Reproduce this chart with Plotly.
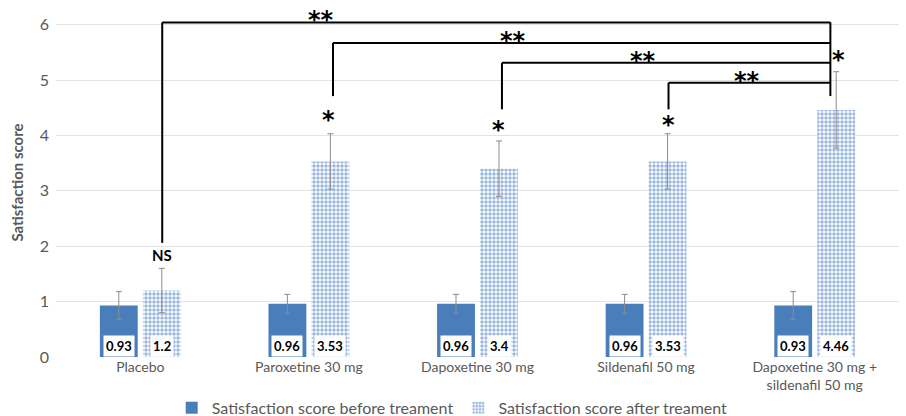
import plotly.graph_objects as go

categories = ["Placebo", "Paroxetine 30 mg", "Dapoxetine 30 mg", "Sildenafil 50 mg",
              "Dapoxetine 30 mg +<br>sildenafil 50 mg"]
before = [0.93, 0.96, 0.96, 0.96, 0.93]
after = [1.2, 3.53, 3.4, 3.53, 4.46]
before_err = [0.25, 0.17, 0.17, 0.17, 0.25]
after_err = [0.4, 0.5, 0.5, 0.5, 0.69]
before_labels = ["0.93", "0.96", "0.96", "0.96", "0.93"]
after_labels = ["1.2", "3.53", "3.4", "3.53", "4.46"]
series_names = ["Satisfaction score before treament", "Satisfaction score after treament"]

BLUE = "#4a7ebb"
GRAY = "#595959"
FONT = "Lato"

fig = go.Figure()
fig.add_trace(go.Bar(
    x=categories, y=before, name=series_names[0],
    marker=dict(color=BLUE, line=dict(width=0)),
    error_y=dict(type="data", array=before_err, color="#8c8c8c", thickness=1, width=3),
))
fig.add_trace(go.Bar(
    x=categories, y=after, name=series_names[1],
    marker=dict(color="white", line=dict(width=0),
                pattern=dict(shape=".", fgcolor="#3a6fbd", bgcolor="white", size=4, solidity=0.6)),
    error_y=dict(type="data", array=after_err, color="#8c8c8c", thickness=1, width=3),
))

off = 0.1275
annotations = []
# value labels
for i in range(len(categories)):
    for dx, lab in ((-off, before_labels[i]), (off, after_labels[i])):
        annotations.append(dict(x=i + dx, y=0.2, xref="x", yref="y", text="<b>%s</b>" % lab,
                                showarrow=False, bgcolor="white", borderpad=2,
                                font=dict(family=FONT, size=13, color="black")))

shapes = []
def line(x0, y0, x1, y1):
    shapes.append(dict(type="line", xref="x", yref="y", x0=x0, y0=y0, x1=x1, y1=y1,
                       line=dict(color="black", width=2)))

# brackets to the combination group
xc = 4.093
brackets = [(0.13, 2.06, 6.04, 1.07), (1.143, 4.71, 5.67, 2.21),
            (2.145, 4.47, 5.31, 2.98), (3.133, 4.47, 4.95, 3.6)]
for x0, yb, yt, xs in brackets:
    line(x0, yb, x0, yt)
    line(x0, yt, xc, yt)
    annotations.append(dict(x=xs, y=yt, xref="x", yref="y", text="<b>**</b>", showarrow=False,
                            yanchor="bottom", yshift=-14, font=dict(family="DejaVu Sans", size=24, color="black")))
line(xc, 4.71, xc, 6.04)

for xs, ys in ((1.115, 4.34), (2.123, 4.16), (3.13, 4.24), (4.14, 5.42)):
    annotations.append(dict(x=xs, y=ys, xref="x", yref="y", text="<b>*</b>", showarrow=False,
                            yshift=-3, font=dict(family="DejaVu Sans", size=24, color="black")))
annotations.append(dict(x=0.13, y=1.85, xref="x", yref="y", text="<b>NS</b>", showarrow=False,
                        font=dict(family=FONT, size=15, color="black")))

fig.update_layout(
    width=906, height=416,
    margin=dict(l=56, r=7, t=8, b=59, autoexpand=False),
    plot_bgcolor="white", paper_bgcolor="white",
    barmode="group", bargap=0.49, bargroupgap=0.12,
    font=dict(family=FONT, color=GRAY),
    showlegend=True,
    legend=dict(orientation="h", x=0.47, xanchor="center", y=-0.097, yanchor="top",
                font=dict(family=FONT, size=16, color=GRAY), itemwidth=30, traceorder="normal"),
    annotations=annotations, shapes=shapes,
)
fig.update_yaxes(range=[0, 6.3], dtick=1, tick0=0, showgrid=True, gridcolor="#e3e3e3", gridwidth=1,
                 zeroline=False, showline=False, ticks="", automargin=False,
                 ticklabelstandoff=6,
                 tickfont=dict(family=FONT, size=16, color=GRAY),
                 title=dict(text="<b>Satisfaction score</b>", font=dict(family=FONT, size=15, color=GRAY),
                            standoff=12))
fig.update_xaxes(showline=False, ticks="", automargin=False,
                 tickfont=dict(family=FONT, size=14, color=GRAY))

fig.write_html("out.html", config={"displayModeBar": False},
               post_script="document.body.style.margin='0';document.body.style.overflow='hidden';")
